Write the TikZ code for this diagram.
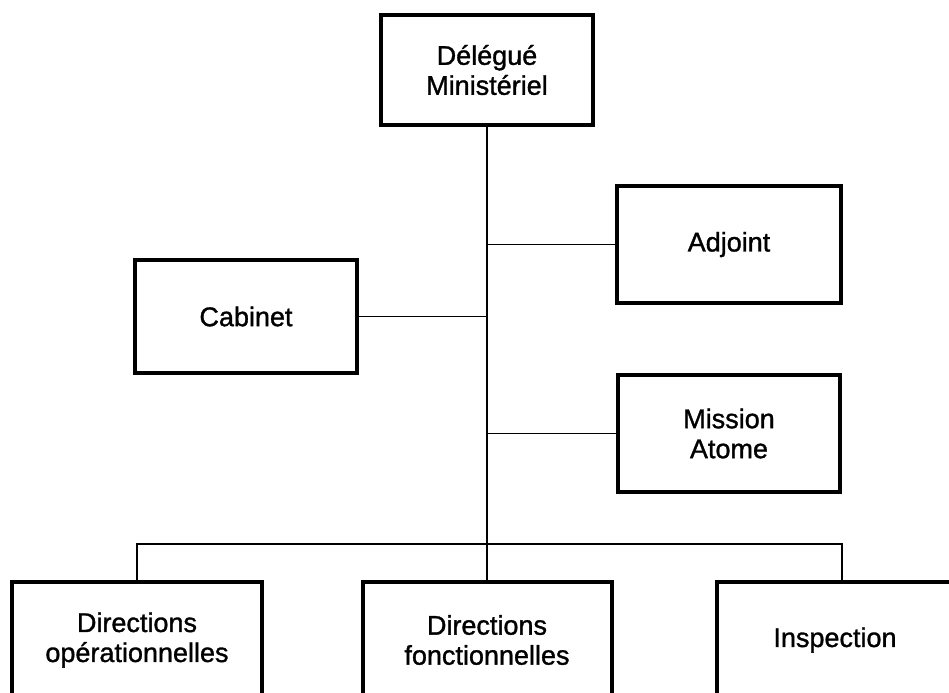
\documentclass[tikz,border=0pt]{standalone}
\usepackage{fontspec}
\setmainfont{Liberation Sans}
\newfontfamily\orgfont{Liberation Sans}[FakeBold=1.2]
\tikzset{box/.style={draw, line width=2pt, align=center, font=\orgfont\fontsize{13.5}{15}\selectfont}, line/.style={line width=0.9pt}}

\begin{document}
\begin{tikzpicture}[x=0.5pt,y=-0.5pt]
    \useasboundingbox (0,0) rectangle (949,692);
    \node[box, minimum width=106pt, minimum height=55pt]   (dm)  at (487,70)    {Délégué\\Ministériel};
    \node[box, minimum width=112pt, minimum height=58.5pt] (adj) at (729,244.5) {Adjoint};
    \node[box, minimum width=111pt, minimum height=56.5pt] (cab) at (246,316.5) {Cabinet};
    \node[box, minimum width=111pt, minimum height=58.5pt] (mis) at (729,433.5) {Mission\\Atome};
    \node[box, minimum width=125pt, minimum height=58pt]   (do)  at (137,640)   {Directions\\opérationnelles};
    \node[box, minimum width=124.5pt, minimum height=58pt] (df)  at (487,640)   {Directions\\fonctionnelles};
    \node[box, minimum width=118pt, minimum height=58pt]   (ins) at (835,640)   {Inspection};
    \coordinate (bus)  at (487,544);
    \coordinate (busr) at (842,544);

    \draw[line]               (dm)-- (df);
    \draw[line]               (adj.west)-- (adj.west -| dm.south);
    \draw[line]               (cab.east)-- (cab.east -| dm.south);
    \draw[line]               (mis.west)-- (mis.west -| dm.south);
    \draw[line]               (do.north)|- (busr)-- (busr |- ins.north);
\end{tikzpicture}
\end{document}
